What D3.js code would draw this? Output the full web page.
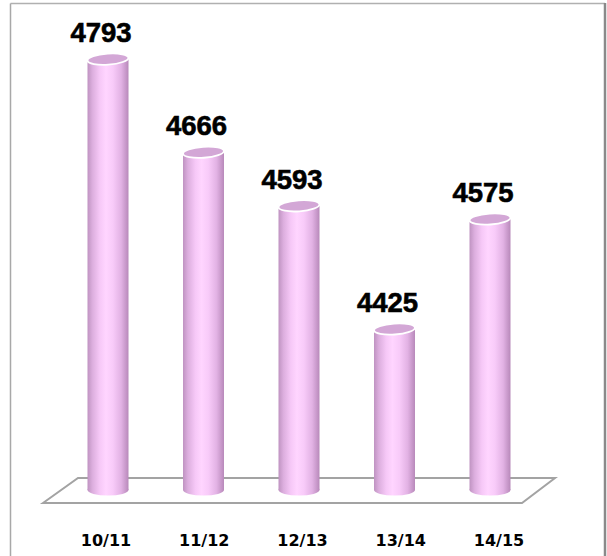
<!DOCTYPE html>
<html>
<head>
<meta charset="utf-8">
<script src="https://cdn.jsdelivr.net/npm/d3@7"></script>
<style>
  html, body { margin: 0; padding: 0; background: #fff; }
  svg { display: block; }
</style>
</head>
<body>
<svg id="chart" width="607" height="556"></svg>
<script>
const categories = ["10/11", "11/12", "12/13", "13/14", "14/15"];
const values = [4793, 4666, 4593, 4425, 4575];
const valueDomain = [4200, 4800];

const svg = d3.select("#chart");
const W = 607, H = 556;

// frame
svg.append("line").attr("x1", 10.5).attr("y1", 3.5).attr("x2", 605).attr("y2", 3.5)
  .attr("stroke", "#b0b0b0").attr("stroke-width", 1.5);
svg.append("line").attr("x1", 10.5).attr("y1", 3.5).attr("x2", 10.5).attr("y2", H)
  .attr("stroke", "#a8a8a8").attr("stroke-width", 1.5);
svg.append("line").attr("x1", 605).attr("y1", 3).attr("x2", 605).attr("y2", H)
  .attr("stroke", "#8a8a8a").attr("stroke-width", 2.5);

// scales
const x = d3.scalePoint().domain(categories).range([108, 490]);
const xLabel = d3.scalePoint().domain(categories).range([106, 499]);
const y = d3.scaleLinear().domain(valueDomain).range([494, 54]);
const floorY = 490;
const rx = 20.5, ry = 5.5;

// floor
svg.append("path")
  .attr("d", "M43,503 L78,478 L555,478 L522,503 Z")
  .attr("fill", "none").attr("stroke", "#a3a3a3").attr("stroke-width", 2);

// gradient
const defs = svg.append("defs");
const g = defs.append("linearGradient").attr("id", "cyl")
  .attr("x1", "0%").attr("x2", "100%").attr("y1", "0%").attr("y2", "0%");
[["0%", "#bf93c1"], ["12%", "#dcaede"], ["30%", "#f6c8f7"], ["45%", "#ffd5ff"],
 ["62%", "#f8cbf9"], ["82%", "#e2b2e4"], ["100%", "#b889ba"]]
  .forEach(([o, c]) => g.append("stop").attr("offset", o).attr("stop-color", c));

const bars = svg.selectAll("g.bar").data(categories.map((c, i) => ({ c, v: values[i] })))
  .enter().append("g").attr("class", "bar");

bars.append("ellipse")
  .attr("cx", d => x(d.c)).attr("cy", floorY).attr("rx", rx).attr("ry", ry)
  .attr("fill", "url(#cyl)");
bars.append("rect")
  .attr("x", d => x(d.c) - rx).attr("width", rx * 2)
  .attr("y", d => y(d.v)).attr("height", d => floorY - y(d.v))
  .attr("fill", "url(#cyl)");
bars.append("ellipse")
  .attr("cx", d => x(d.c)).attr("cy", d => y(d.v)).attr("rx", rx).attr("ry", ry)
  .attr("transform", d => `rotate(-4 ${x(d.c)} ${y(d.v)})`)
  .attr("fill", "#d3a7d6").attr("stroke", "#ffffff").attr("stroke-width", 1.8);

// value labels
bars.append("text")
  .attr("x", d => x(d.c) - 7).attr("y", d => y(d.v) - 17)
  .attr("text-anchor", "middle")
  .attr("font-family", "'Liberation Sans', Arial, sans-serif")
  .attr("font-weight", "bold").attr("font-size", 27.5).attr("fill", "#000")
  .attr("stroke", "#000").attr("stroke-width", 0.6)
  .text(d => d.v);

// category labels
svg.selectAll("text.cat").data(categories).enter().append("text")
  .attr("class", "cat")
  .attr("x", d => xLabel(d)).attr("y", 546)
  .attr("text-anchor", "middle")
  .attr("font-family", "'DejaVu Sans', sans-serif")
  .attr("font-weight", "bold").attr("font-size", 16).attr("fill", "#000")
  .text(d => d);
</script>
</body>
</html>
